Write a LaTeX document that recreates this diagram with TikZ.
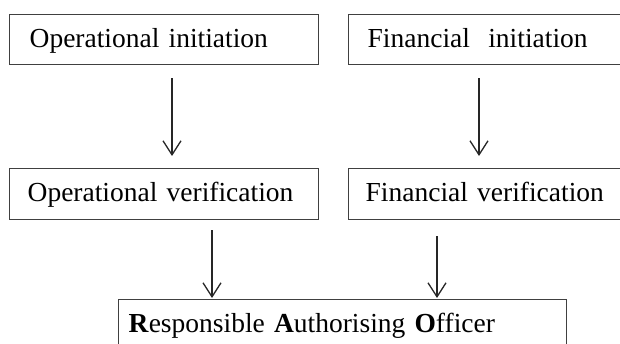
\documentclass[tikz,border=0pt]{standalone}
\usepackage{fontspec}
\setmainfont{Liberation Serif}
\usetikzlibrary{arrows.meta}
\begin{document}
\begin{tikzpicture}[x=1pt,y=-1pt,
  box/.style={draw=black!75, line width=1.3pt, anchor=north west, align=left,
    inner ysep=0pt, text height=33pt, font=\fontsize{27.5}{30}\selectfont},
  arr/.style={-{Straight Barb[length=14pt,width=18pt]}, line width=1.3pt, draw=black!85}]
\clip (0,0) rectangle (620,344);
\fill[white] (0,0) rectangle (620,344);
\node[box, inner xsep=20pt, text width=269pt, text depth=17pt] (oi) at (9,14) {Operational initiation};
\node[box, inner xsep=19pt, text width=260pt, text depth=17pt] (fi) at (348,14) {Financial\ \ initiation};
\node[box, inner xsep=18pt, text width=273pt, text depth=18pt] (ov) at (9,168) {Operational verification};
\node[box, inner xsep=17pt, text width=264pt, text depth=18pt] (fv) at (348,168) {Financial verification};
\node[box, inner xsep=10pt, text width=428pt, text depth=40pt] (rao) at (118,299) {\textbf{R}esponsible \textbf{A}uthorising \textbf{O}fficer};
\draw[arr] ([xshift=163pt,yshift=-13pt]oi.south west) -- ([xshift=163pt,yshift=12pt]ov.north west);
\draw[arr] ([xshift=131pt,yshift=-13pt]fi.south west) -- ([xshift=131pt,yshift=12pt]fv.north west);
\draw[arr] ([xshift=203pt,yshift=-10pt]ov.south west) -- ([xshift=94pt,yshift=1pt]rao.north west);
\draw[arr] ([xshift=89pt,yshift=-16pt]fv.south west) -- ([xshift=319pt,yshift=1pt]rao.north west);
\end{tikzpicture}
\end{document}
